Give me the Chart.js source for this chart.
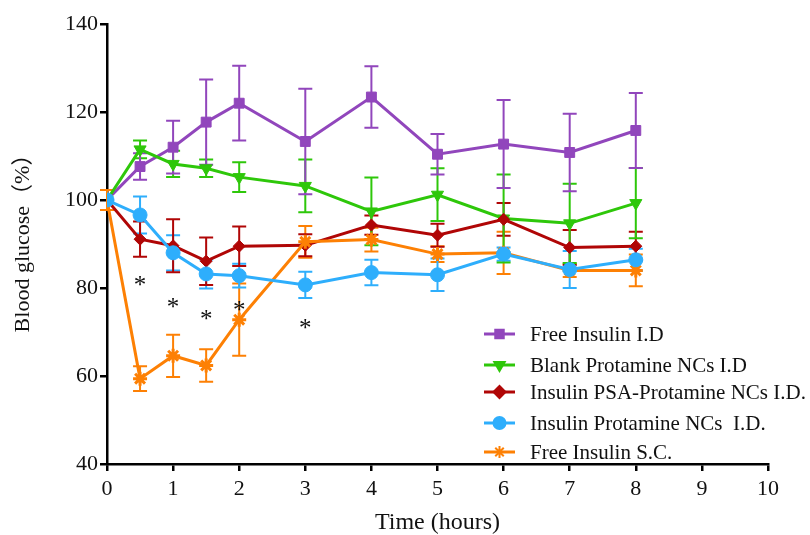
<!DOCTYPE html>
<html>
<head>
<meta charset="utf-8">
<script src="https://cdn.jsdelivr.net/npm/chart.js@4"></script>
<style>
  html, body { margin: 0; padding: 0; background: #fff; }
  #wrap { width: 810px; height: 535px; }
</style>
</head>
<body>
<div id="wrap"><canvas id="chart" width="810" height="535"></canvas></div>
<script>
// time points (hours)
const hours = [0, 0.5, 1, 1.5, 2, 3, 4, 5, 6, 7, 8];

// blood glucose (%)
const freeInsulinID = [100, 107.6, 112, 117.7, 122, 113.3, 123.4, 110.4, 112.7, 110.8, 115.8];
const freeInsulinIDErr = [0, 3, 6, 9.7, 8.5, 12, 7, 4.6, 10, 8.8, 8.5];

const blankNC = [100, 111.5, 108.2, 107.2, 105.2, 103.2, 97.4, 101.2, 95.8, 94.7, 99.3];
const blankNCErr = [0, 2, 3, 2, 3.4, 6, 7.7, 6, 10, 9, 8];

const psaNC = [100, 91.1, 89.6, 86.1, 89.5, 89.7, 94.3, 92, 95.6, 89.2, 89.5];
const psaNCErr = [0, 4, 6, 5.4, 4.5, 2.5, 2.2, 2.6, 3.7, 4, 3.3];

const protamineNC = [100, 96.6, 88, 83.2, 82.8, 80.7, 83.5, 83, 87.7, 84.2, 86.4];
const protamineNCErr = [0, 4.2, 4, 3.3, 2.7, 3, 2.9, 3.7, 1.5, 4.2, 2.5];

const freeInsulinSC = [100, 59.4, 64.6, 62.4, 72.8, 90.5, 91, 87.7, 88, 84, 84];
const freeInsulinSCErr = [2.3, 2.8, 4.8, 3.7, 8.2, 3.6, 2.7, 1.8, 4.8, 1.5, 3.6];

// significance marks
const starHours = [0.5, 1, 1.5, 2, 3];
const starValues = [81.4, 76.5, 73.8, 75.7, 71.8];

const xTicks = [0, 1, 2, 3, 4, 5, 6, 7, 8, 9, 10];
const yTicks = [40, 60, 80, 100, 120, 140];

const serif = '"Liberation Serif", "Noto Sans CJK SC", serif';

const toPoints = (vals) => vals.map((v, i) => ({ x: hours[i], y: v }));

const series = [
  { label: 'Free Insulin I.D', data: freeInsulinID, err: freeInsulinIDErr, color: '#9146bc', style: 'rect', radius: 7, rotation: 0, order: 5 },
  { label: 'Blank Protamine NCs I.D', data: blankNC, err: blankNCErr, color: '#2ec70a', style: 'triangle', radius: 7, rotation: 180, order: 4 },
  { label: 'Insulin PSA-Protamine NCs I.D.', data: psaNC, err: psaNCErr, color: '#b00606', style: 'rectRot', radius: 6, rotation: 0, order: 3 },
  { label: 'Insulin Protamine NCs  I.D.', data: protamineNC, err: protamineNCErr, color: '#2eaefc', style: 'circle', radius: 7, rotation: 0, order: 1 },
  { label: 'Free Insulin S.C.', data: freeInsulinSC, err: freeInsulinSCErr, color: '#fd8004', style: 'star', radius: 7, rotation: 0, order: 2 }
];

// 误差线
const errorBars = {
  id: 'errorBars',
  beforeDatasetsDraw(chart) {
    const ctx = chart.ctx;
    const xs = chart.scales.x, ys = chart.scales.y;
    ctx.save();
    series.slice().reverse().forEach(s => {
      ctx.strokeStyle = s.color;
      ctx.lineWidth = 2;
      s.data.forEach((v, i) => {
        const e = s.err[i];
        if (!e) return;
        const px = xs.getPixelForValue(hours[i]);
        const top = ys.getPixelForValue(v + e);
        const bot = ys.getPixelForValue(v - e);
        ctx.beginPath();
        ctx.moveTo(px, top); ctx.lineTo(px, bot);
        ctx.moveTo(px - 7, top); ctx.lineTo(px + 7, top);
        ctx.moveTo(px - 7, bot); ctx.lineTo(px + 7, bot);
        ctx.stroke();
      });
    });
    ctx.restore();
  }
};

// 星号 + 图例 + 轴标题
const extras = {
  id: 'extras',
  afterDraw(chart) {
    const ctx = chart.ctx;
    const xs = chart.scales.x, ys = chart.scales.y;
    const area = chart.chartArea;
    ctx.save();
    ctx.fillStyle = '#111';
    ctx.font = '25px ' + serif;
    ctx.textAlign = 'center';
    ctx.textBaseline = 'middle';
    starHours.forEach((h, i) => {
      ctx.fillText('*', xs.getPixelForValue(h), ys.getPixelForValue(starValues[i]) + 5);
    });

    // axis titles drawn by hand to sit where the original has them
    ctx.font = '24px ' + serif;
    ctx.fillText('Time (hours)', (area.left + area.right) / 2, 523);

    ctx.save();
    ctx.translate(23, 238);
    ctx.rotate(-Math.PI / 2);
    ctx.font = '22px ' + serif;
    ctx.fillText('Blood glucose（%）', 0, 0);
    ctx.restore();

    const legendY = [334, 365, 392, 423, 452];
    ctx.font = '21px ' + serif;
    ctx.textAlign = 'left';
    series.forEach((s, i) => {
      const y = legendY[i];
      ctx.strokeStyle = s.color;
      ctx.lineWidth = 3;
      ctx.beginPath();
      ctx.moveTo(484, y); ctx.lineTo(515, y);
      ctx.stroke();
      ctx.fillStyle = s.color;
      ctx.lineWidth = 2;
      Chart.helpers.drawPoint(ctx, { pointStyle: s.style, radius: 6, rotation: s.rotation, borderWidth: 2 }, 499.5, y);
      ctx.fillStyle = '#111';
      ctx.fillText(s.label, 530, y + 1);
    });
    ctx.restore();
  }
};

new Chart(document.getElementById('chart'), {
  type: 'line',
  data: {
    datasets: series.map(s => ({
      label: s.label,
      data: toPoints(s.data),
      borderColor: s.color,
      backgroundColor: s.color,
      borderWidth: 3,
      pointStyle: s.style,
      pointRadius: s.radius,
      pointRotation: s.rotation,
      pointBorderWidth: s.style === 'star' ? 3 : 1,
      pointBackgroundColor: s.color,
      pointBorderColor: s.color,
      tension: 0,
      order: s.order
    }))
  },
  options: {
    responsive: false,
    animation: false,
    layout: { padding: { top: 24, right: 42, left: 0, bottom: 0 } },
    plugins: {
      legend: { display: false },
      tooltip: { enabled: false }
    },
    scales: {
      x: {
        type: 'linear',
        min: 0,
        max: 10,
        afterBuildTicks: (scale) => { scale.ticks = xTicks.map(v => ({ value: v })); },
        afterFit: (scale) => { scale.height = 71; },
        border: { display: true, color: '#000', width: 2.5 },
        grid: { display: true, drawOnChartArea: false, color: '#000', lineWidth: 2.5, tickLength: 7 },
        ticks: { color: '#111', font: { family: serif, size: 22 }, padding: 5 },
        title: { display: false }
      },
      y: {
        min: 40,
        max: 140,
        afterBuildTicks: (scale) => { scale.ticks = yTicks.map(v => ({ value: v })); },
        afterFit: (scale) => { scale.width = 107; },
        border: { display: true, color: '#000', width: 2.5 },
        grid: { display: true, drawOnChartArea: false, color: '#000', lineWidth: 2.5, tickLength: 7 },
        ticks: { color: '#111', font: { family: serif, size: 22 }, padding: 2 },
        title: { display: false }
      }
    }
  },
  plugins: [errorBars, extras]
});
</script>
</body>
</html>
